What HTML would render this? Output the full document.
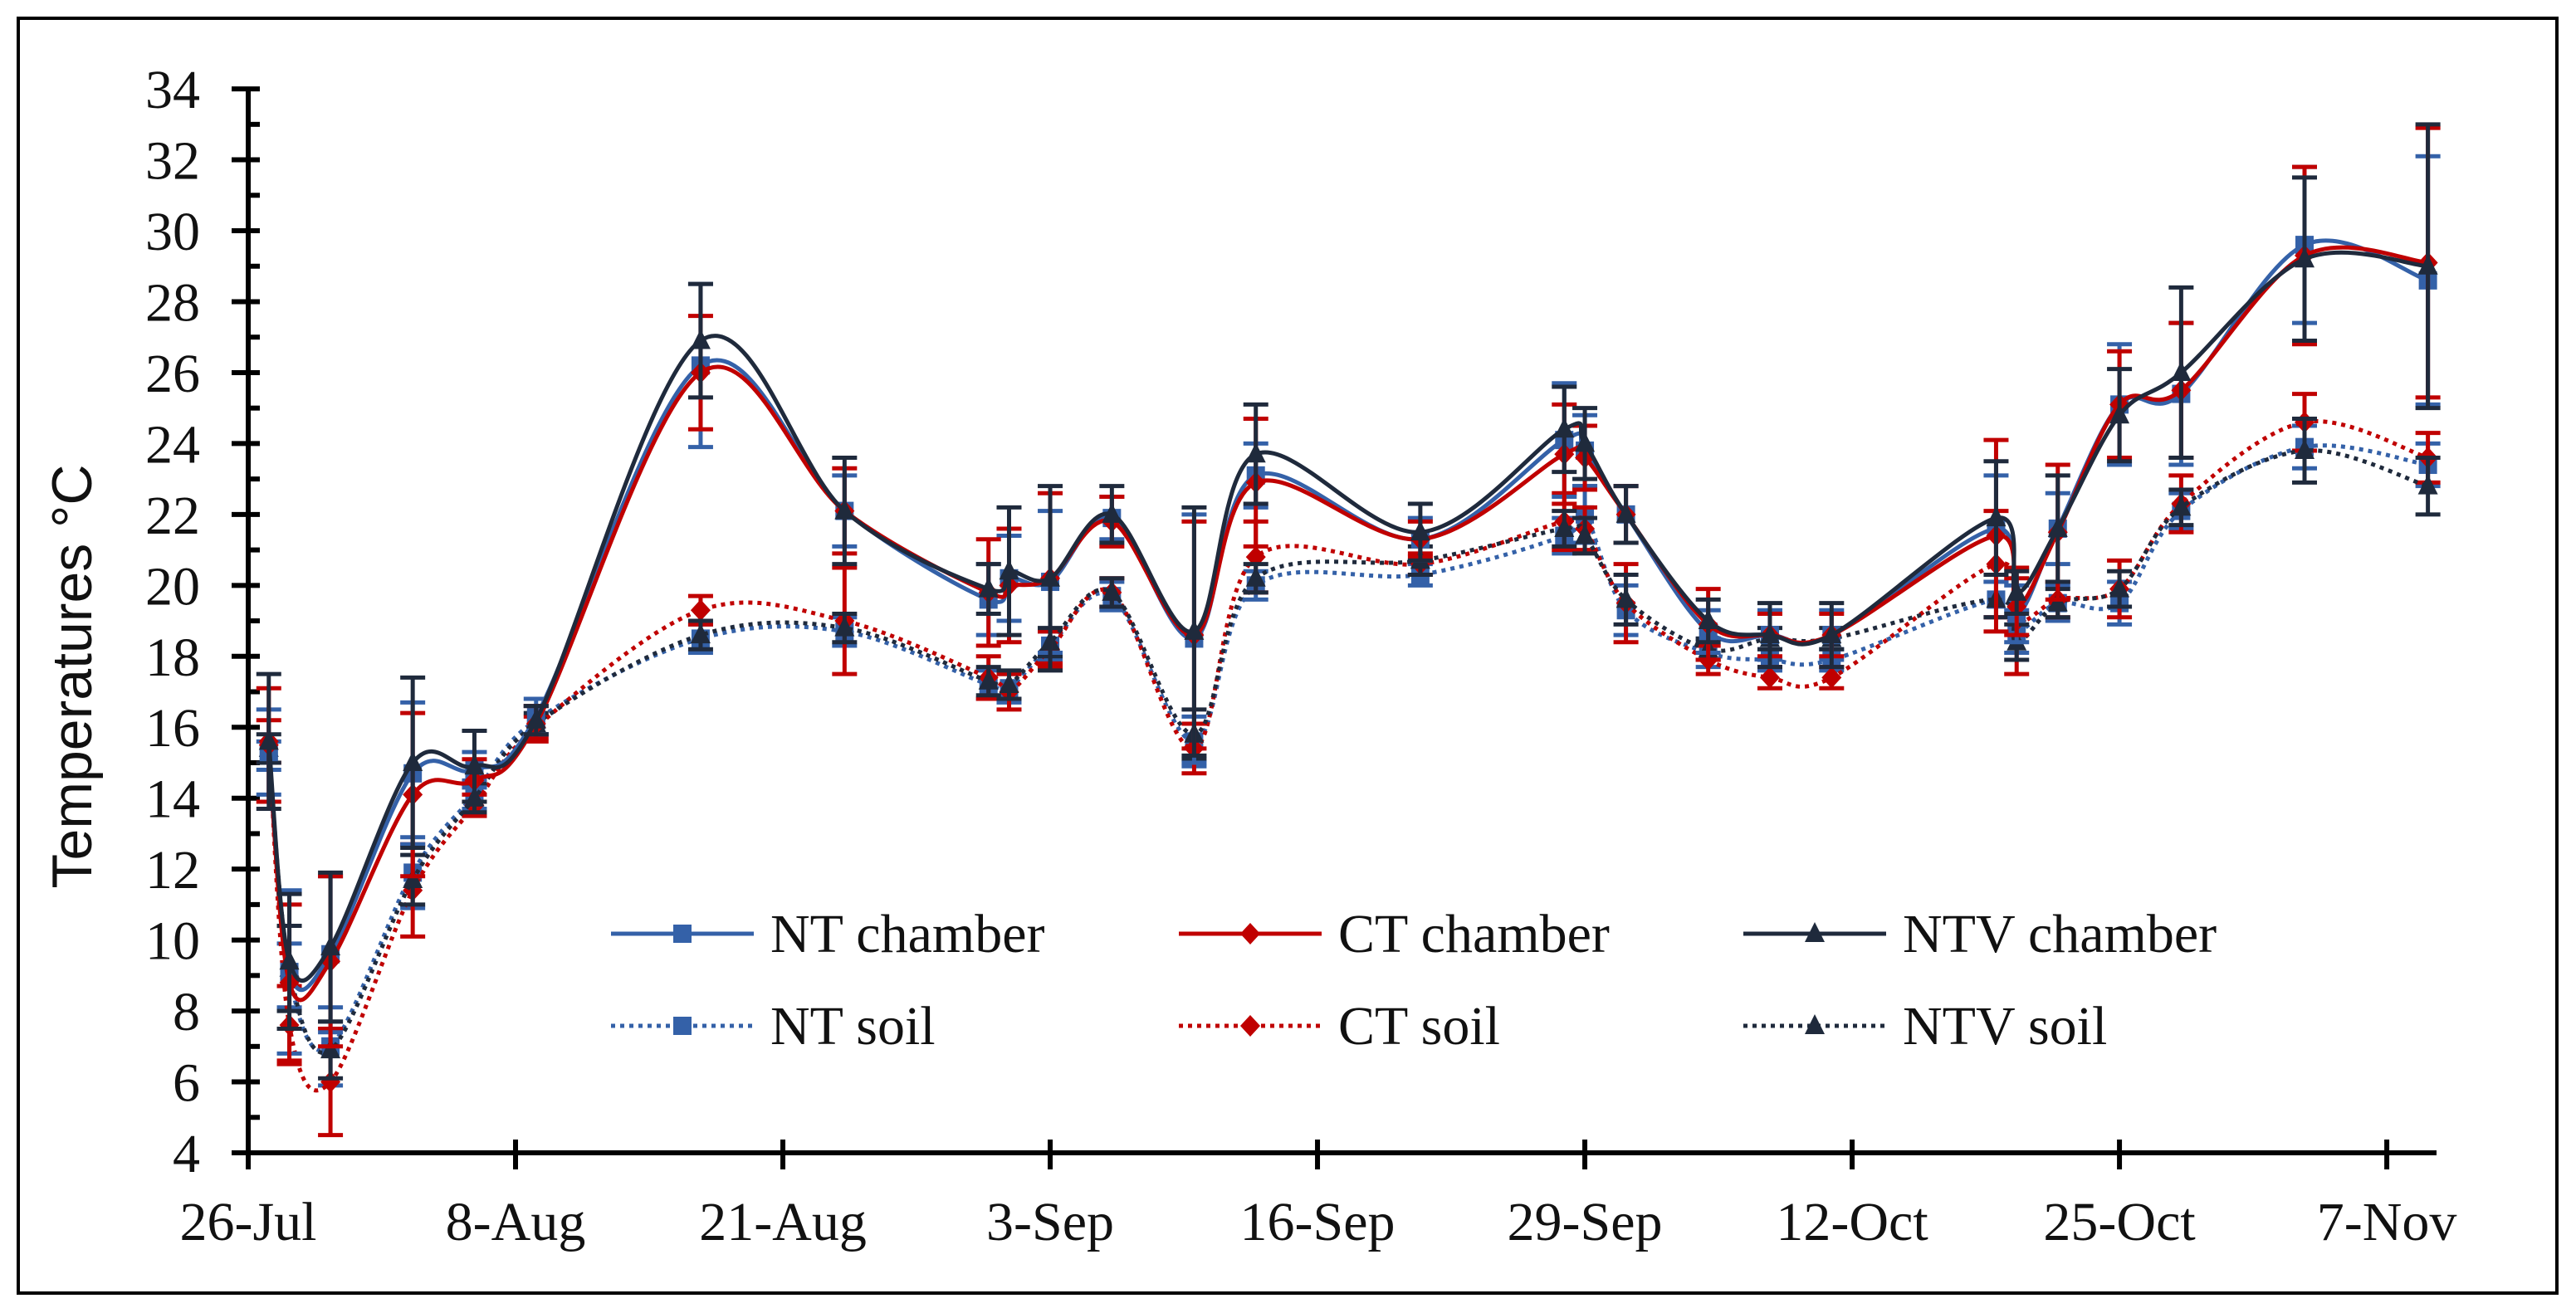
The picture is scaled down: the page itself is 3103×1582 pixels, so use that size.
<!DOCTYPE html>
<html><head><meta charset="utf-8"><style>
html,body{margin:0;padding:0;background:#fff;}
svg{display:block;}
.tk{font-family:"Liberation Serif",serif;font-size:66px;fill:#111;}
</style></head><body>
<svg id="chart" width="3103" height="1582" viewBox="0 0 3103 1582" xmlns="http://www.w3.org/2000/svg">
<rect x="22" y="22" width="3058" height="1536" fill="#fff" stroke="#000" stroke-width="4"/>
<text transform="translate(110,815) rotate(-90)" text-anchor="middle" font-family="Liberation Sans, sans-serif" font-size="68" fill="#111">Temperatures °C</text>
<g id="axes"></g>
<g id="series"></g>
<g id="legend"></g>
</svg>
<script>
const days = [1,2,4,8,11,14,22,29,36,37,39,42,46,49,57,64,65,67,71,74,77,85,86,88,91,94,100,106];
const ntChamber  = [15.3,9.1,9.6,14.7,14.8,16.3,26.2,22.1,19.6,20.2,20.1,21.9,18.5,23.1,21.3,24.1,23.8,22.0,18.7,18.6,18.6,21.6,19.2,21.6,25.1,25.4,29.6,28.6];
const ctChamber  = [15.5,8.8,9.4,14.1,14.5,16.1,26.0,22.1,19.8,20.0,20.2,21.8,18.6,22.9,21.3,23.7,23.6,22.0,18.9,18.6,18.6,21.4,19.4,21.5,25.1,25.5,29.3,29.1];
const ntvChamber = [15.6,9.4,9.8,15.0,14.9,16.2,26.9,22.1,19.9,20.4,20.2,22.0,18.7,23.7,21.5,24.4,24.0,22.0,19.0,18.6,18.6,21.9,19.8,21.6,24.8,26.0,29.2,29.0];
const ntSoil  = [15.2,9.0,7.0,11.9,14.1,16.2,18.5,18.7,17.2,17.1,18.3,19.7,15.6,20.0,20.3,21.4,22.0,19.3,18.1,17.9,17.9,19.6,18.7,19.5,19.5,22.1,23.9,23.4];
const ctSoil  = [15.6,7.6,6.0,11.4,13.8,16.0,19.3,19.0,17.4,17.0,18.2,19.8,15.4,20.8,20.6,21.8,21.6,19.5,17.9,17.4,17.4,20.6,19.0,19.6,19.9,22.3,24.6,23.6];
const ntvSoil = [15.4,9.2,6.9,11.7,14.0,16.1,18.6,18.8,17.3,17.2,18.4,19.8,15.8,20.2,20.7,21.6,21.4,19.6,18.2,18.5,18.5,19.6,18.4,19.5,19.9,22.2,23.8,22.8];
const ntChamberErr  = [1.2,2.3,2.2,2.0,0.5,0.5,2.3,1.0,1.0,1.2,2.0,0.6,3.5,0.9,0.6,1.6,1.0,0.8,0.6,0.7,0.7,1.5,0.8,1.0,1.7,2.0,2.2,3.5];
const ctChamberErr  = [1.6,2.2,2.4,2.3,0.6,0.5,1.6,1.2,1.5,1.6,2.4,0.7,3.2,1.8,0.5,1.4,0.9,0.8,1.0,0.6,0.6,2.7,0.8,1.9,1.5,1.9,2.5,3.8];
const ntvChamberErr = [1.9,1.9,2.1,2.4,1.0,0.4,1.6,1.5,0.7,1.8,2.6,0.8,3.5,1.4,0.8,1.2,1.0,0.8,0.6,0.9,0.9,1.6,0.6,1.5,1.3,2.4,2.3,4.0];
const ntSoilErr  = [0.4,0.9,1.1,1.0,0.4,0.4,0.4,0.4,0.4,0.4,0.4,0.4,0.7,0.4,0.3,0.5,0.8,0.7,0.4,0.3,0.3,0.5,0.6,0.5,0.6,0.5,0.6,0.6];
const ctSoilErr  = [0.6,1.1,1.5,1.3,0.3,0.3,0.4,1.5,0.6,0.5,0.5,0.4,0.7,1.0,0.3,0.8,0.6,1.1,0.4,0.3,0.3,1.5,1.5,0.5,0.8,0.8,0.8,0.7];
const ntvSoilErr = [0.4,1.2,0.8,0.7,0.4,0.3,0.4,0.4,0.4,0.4,0.4,0.4,0.7,0.4,0.4,0.5,0.5,0.7,0.3,0.3,0.3,0.5,0.5,0.4,0.5,0.5,0.9,0.8];
const xTickLabels = ["26-Jul","8-Aug","21-Aug","3-Sep","16-Sep","29-Sep","12-Oct","25-Oct","7-Nov"];
const yTickValues = [4,6,8,10,12,14,16,18,20,22,24,26,28,30,32,34];

const NS="http://www.w3.org/2000/svg";
const X0=299, PXDAY=24.77, Y0=1389, PXDEG=42.73;
const xs=d=>X0+d*PXDAY;
const ys=v=>Y0-(v-4)*PXDEG;
function mk(tag,attrs,parent){const e=document.createElementNS(NS,tag);for(const k in attrs)e.setAttribute(k,attrs[k]);parent.appendChild(e);return e;}
const axes=document.getElementById('axes');
const yAxisLine=mk('line',{x1:X0,y1:ys(34),x2:X0,y2:Y0,stroke:'#000','stroke-width':6},axes);


const xAxisLine=mk('line',{x1:X0-20,y1:Y0,x2:2935,y2:Y0,stroke:'#000','stroke-width':6},axes);


yTickValues.forEach(v=>{
  const y=ys(v);
  const t=mk('line',{x1:X0-20,y1:y,x2:X0+14,y2:y,stroke:'#000','stroke-width':6},axes);
  
  
  if(v<34){const m=mk('line',{x1:X0,y1:ys(v+1),x2:X0+14,y2:ys(v+1),stroke:'#000','stroke-width':6},axes);
    
    }
  const l=mk('text',{x:241,y:y+23,'text-anchor':'end',class:'tk'},axes);l.textContent=v;
  
  
});
xTickLabels.forEach((s,i)=>{
  const x=xs(i*13);
  const t=mk('line',{x1:x,y1:Y0-16,x2:x,y2:Y0+20,stroke:'#000','stroke-width':6},axes);
  
  
  const l=mk('text',{x:x,y:1494,'text-anchor':'middle',class:'tk'},axes);l.textContent=s;
  
  
});
function smoothPath(pts){
  let d=`M${pts[0][0]},${pts[0][1]}`;
  for(let i=0;i<pts.length-1;i++){
    const p0=pts[Math.max(0,i-1)],p1=pts[i],p2=pts[i+1],p3=pts[Math.min(pts.length-1,i+2)];
    const c1=[p1[0]+(p2[0]-p0[0])/6,p1[1]+(p2[1]-p0[1])/6];
    const c2=[p2[0]-(p3[0]-p1[0])/6,p2[1]-(p3[1]-p1[1])/6];
    d+=` C${c1[0]},${c1[1]} ${c2[0]},${c2[1]} ${p2[0]},${p2[1]}`;
  }
  return d;
}
function marker(shape,x,y,color,parent){
  let e;
  if(shape==='square') e=mk('rect',{x:x-11,y:y-11,width:22,height:22,fill:color},parent);
  else if(shape==='diamond') e=mk('polygon',{points:`${x},${y-13} ${x+12},${y} ${x},${y+13} ${x-12},${y}`,fill:color},parent);
  else e=mk('polygon',{points:`${x},${y-14} ${x+12},${y+10} ${x-12},${y+10}`,fill:color},parent);
  return e;
}
const seriesDefs=[
 {name:'nt-soil',vals:ntSoil,err:ntSoilErr,color:'#3461a8',shape:'square',dash:true},
 {name:'ct-soil',vals:ctSoil,err:ctSoilErr,color:'#c00000',shape:'diamond',dash:true},
 {name:'ntv-soil',vals:ntvSoil,err:ntvSoilErr,color:'#1f2a3c',shape:'triangle',dash:true},
 {name:'nt-chamber',vals:ntChamber,err:ntChamberErr,color:'#3461a8',shape:'square',dash:false},
 {name:'ct-chamber',vals:ctChamber,err:ctChamberErr,color:'#c00000',shape:'diamond',dash:false},
 {name:'ntv-chamber',vals:ntvChamber,err:ntvChamberErr,color:'#1f2a3c',shape:'triangle',dash:false}
];
const sg=document.getElementById('series');
seriesDefs.forEach(s=>{
  const g=mk('g',{},sg);
  
  
  s.vals.forEach((v,i)=>{
    const x=xs(days[i]);
    const eb=mk('path',{d:`M${x},${ys(v+s.err[i])}V${ys(v-s.err[i])}M${x-15},${ys(v+s.err[i])}h30M${x-15},${ys(v-s.err[i])}h30`,stroke:s.color,'stroke-width':5,fill:'none'},g);
    
    
  });
  const pts=s.vals.map((v,i)=>[xs(days[i]),ys(v)]);
  const p=mk('path',{d:smoothPath(pts),stroke:s.color,'stroke-width':5,fill:'none','stroke-dasharray':s.dash?'5 6':'none'},g);
  
  
  pts.forEach(pt=>{
    const m=marker(s.shape,pt[0],pt[1],s.color,g);
    
    
  });
});
const lg=document.getElementById('legend');
const legendItems=[
 {label:'NT chamber',x:736,y:1125,i:3},{label:'CT chamber',x:1420,y:1125,i:4},{label:'NTV chamber',x:2100,y:1125,i:5},
 {label:'NT soil',x:736,y:1236,i:0},{label:'CT soil',x:1420,y:1236,i:1},{label:'NTV soil',x:2100,y:1236,i:2}
];
legendItems.forEach(it=>{
  const s=seriesDefs[it.i];
  const g=mk('g',{},lg);
  
  
  mk('line',{x1:it.x,y1:it.y,x2:it.x+172,y2:it.y,stroke:s.color,'stroke-width':5,'stroke-dasharray':s.dash?'5 6':'none'},g);
  marker(s.shape,it.x+86,it.y,s.color,g);
  const t=mk('text',{x:it.x+192,y:it.y+22,class:'tk'},g);t.textContent=it.label;
});
</script>
</body></html>
